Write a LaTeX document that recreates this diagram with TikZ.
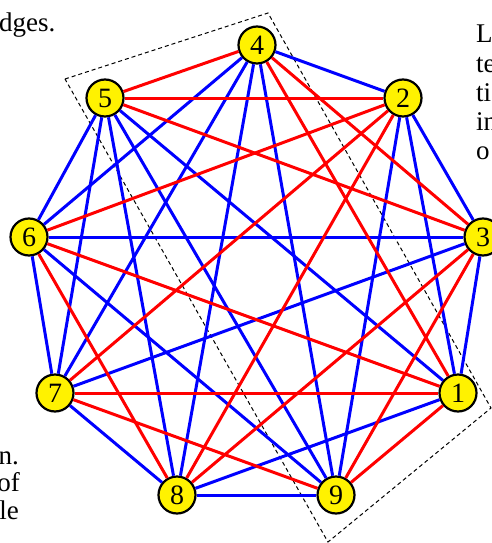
\documentclass[tikz,border=0pt]{standalone}
\usepackage{fontspec}
\setmainfont{Liberation Serif}
\begin{document}
\begin{tikzpicture}[x=1pt,y=-1pt,
  vtx/.style={circle,draw=black,fill=yellow,line width=2.2pt,minimum size=37pt,inner sep=0pt,font=\fontsize{28}{28}\selectfont},
  redge/.style={draw=red,line width=3pt},
  bedge/.style={draw=blue,line width=3pt},
  frame/.style={draw=black,line width=1pt,dash pattern=on 4pt off 3pt},
  pagetext/.style={inner sep=0pt,font=\fontsize{27}{29}\selectfont}]
\useasboundingbox (0,0) rectangle (491,543);
% surrounding page text fragments
\node[pagetext,anchor=base west] (t1) at (-1,32) {dges.};
\node[pagetext,anchor=base west] (r1) at (476,43) {L};
\node[pagetext,anchor=base west] (r2) at (476,72) {te};
\node[pagetext,anchor=base west] (r3) at (476,101) {ti};
\node[pagetext,anchor=base west] (r4) at (476,130) {in};
\node[pagetext,anchor=base west] (r5) at (476,159) {o};
\node[pagetext,anchor=base east] (l1) at (19,464) {n.};
\node[pagetext,anchor=base east] (l2) at (20,491) {of};
\node[pagetext,anchor=base east] (l3) at (19,519) {le};
% dashed frame
\coordinate (fa) at (65,79);
\coordinate (fb) at (268,13);
\coordinate (fc) at (491,408);
\coordinate (fd) at (328,542);
\draw[frame] (fa) -- (fb) -- (fc) -- (fd) -- cycle;
% vertices
\node[vtx] (n1) at (458,393) {1};
\node[vtx] (n2) at (403,98) {2};
\node[vtx] (n3) at (483,237) {3};
\node[vtx] (n4) at (257,45) {4};
\node[vtx] (n5) at (105,98) {5};
\node[vtx] (n6) at (29,237) {6};
\node[vtx] (n7) at (55,393) {7};
\node[vtx] (n8) at (177,495) {8};
\node[vtx] (n9) at (336,495) {9};
% blue edges
\foreach \a/\b in {1/2,1/3,1/5,1/8,2/3,2/4,2/9,3/6,3/7,4/6,4/7,4/8,4/9,5/6,5/7,5/8,5/9,6/7,6/9,7/8,8/9}
  \draw[bedge] (n\a) -- (n\b);
% red edges
\foreach \a/\b in {4/5,4/3,4/1,5/2,5/3,2/6,2/7,2/8,3/8,3/9,1/6,1/7,1/9,9/7,6/8}
  \draw[redge] (n\a) -- (n\b);
\end{tikzpicture}
\end{document}
